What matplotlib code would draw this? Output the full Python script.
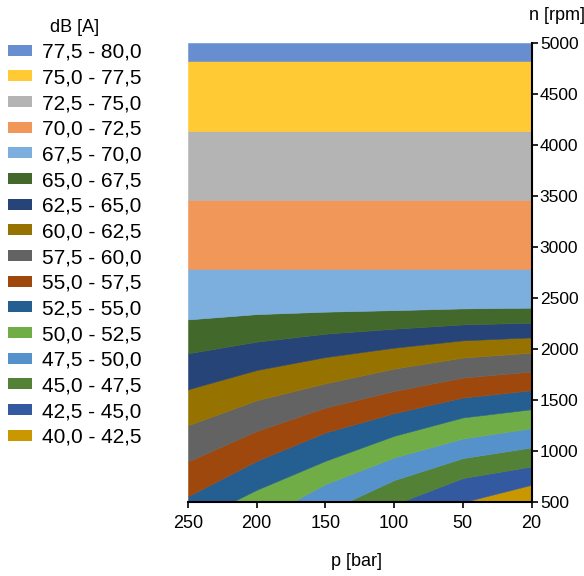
import matplotlib

matplotlib.use("Agg")
import matplotlib.pyplot as plt
from matplotlib.patches import Patch

plt.rcParams["font.family"] = ["Liberation Sans", "DejaVu Sans"]

# pressure columns, left to right
p_labels = ["250", "200", "150", "100", "50", "20"]
n_ticks = [500, 1000, 1500, 2000, 2500, 3000, 3500, 4000, 4500, 5000]

db_levels = [40.0, 42.5, 45.0, 47.5, 50.0, 52.5, 55.0, 57.5, 60.0,
             62.5, 65.0, 67.5, 70.0, 72.5, 75.0, 77.5, 80.0]

# rpm at which each dB level line crosses each pressure column
# (values under 500 are guesses for lines that run off the bottom edge)
n_40_0 = [0, 0, 0, 0, 0, 0]
n_42_5 = [0, 0, 150, 300, 498, 669]
n_45_0 = [0, 100, 250, 477, 735, 849]
n_47_5 = [0, 200, 403, 715, 930, 1035]
n_50_0 = [100, 313, 676, 937, 1123, 1224]
n_52_5 = [284, 620, 904, 1149, 1329, 1410]
n_55_0 = [556, 904, 1182, 1371, 1524, 1596]
n_57_5 = [898, 1197, 1426, 1589, 1720, 1779]
n_60_0 = [1253, 1498, 1664, 1808, 1916, 1964]
n_62_5 = [1605, 1794, 1921, 2013, 2085, 2114]
n_65_0 = [1958, 2072, 2150, 2199, 2241, 2258]
n_67_5 = [2290, 2342, 2366, 2381, 2398, 2405]
n_70_0 = [2786, 2786, 2786, 2786, 2786, 2786]
n_72_5 = [3464, 3464, 3464, 3464, 3464, 3464]
n_75_0 = [4142, 4142, 4142, 4142, 4142, 4142]
n_77_5 = [4827, 4827, 4827, 4827, 4827, 4827]
n_80_0 = [5000, 5000, 5000, 5000, 5000, 5000]

band_colors = [
    "#C99800", "#335AA1", "#538135", "#5592CB", "#70AD47", "#255E91",
    "#9E480E", "#636363", "#967300", "#264478", "#43682B", "#7CAFDD",
    "#F1975A", "#B4B4B4", "#FFCA33", "#698ED0",
]

boundaries = [n_40_0, n_42_5, n_45_0, n_47_5, n_50_0, n_52_5, n_55_0, n_57_5,
              n_60_0, n_62_5, n_65_0, n_67_5, n_70_0, n_72_5, n_75_0, n_77_5,
              n_80_0]


def band_label(lo: float, hi: float) -> str:
    return f"{lo:.1f} - {hi:.1f}".replace(".", ",")


W, H = 584, 576
fig = plt.figure(figsize=(W / 100, H / 100), dpi=100)
ax = fig.add_axes([188 / W, (H - 502) / H, (531.5 - 188) / W, (502 - 43) / H])

x = list(range(len(p_labels)))
for lo, hi, color in zip(boundaries[:-1], boundaries[1:], band_colors):
    ax.fill_between(x, lo, hi, facecolor=color, edgecolor=color, linewidth=0.4)

ax.set_xlim(0, len(p_labels) - 1)
ax.set_ylim(500, 5000)
ax.set_xticks(x)
ax.set_xticklabels(p_labels)
ax.set_yticks(n_ticks)
ax.yaxis.tick_right()
ax.spines[["top", "left"]].set_visible(False)
for side in ("bottom", "right"):
    ax.spines[side].set_linewidth(1.5)
    ax.spines[side].set_zorder(5)
ax.tick_params(axis="both", length=4, width=1.2, direction="out")
ax.tick_params(axis="x", labelsize=13, pad=5)
ax.tick_params(axis="y", labelsize=12.5, pad=2)

fig.text(357 / W, 1 - 562 / H, "p [bar]", ha="center", va="center", fontsize=13)
fig.text(557 / W, 1 - 15 / H, "n [rpm]", ha="center", va="center", fontsize=13)

handles = [
    Patch(facecolor=c, edgecolor="none", label=band_label(lo, hi))
    for lo, hi, c in zip(db_levels[:-1], db_levels[1:], band_colors)
][::-1]
fig.legend(
    handles=handles,
    loc="upper left",
    bbox_to_anchor=(8 / W, 1 - 19 / H),
    title="dB [A]",
    title_fontsize=13,
    fontsize=15,
    frameon=False,
    borderpad=0,
    borderaxespad=0,
    handlelength=1.15,
    handleheight=0.43,
    handletextpad=0.48,
    labelspacing=0.32,
)

fig.savefig("out.png", dpi=100)
